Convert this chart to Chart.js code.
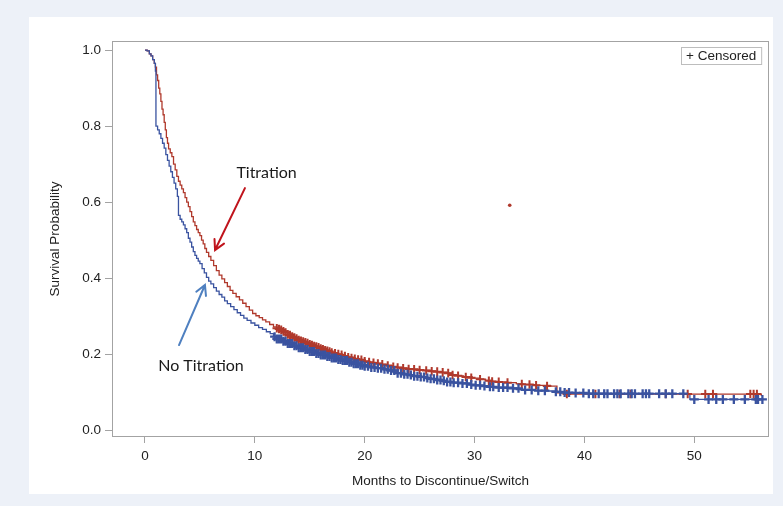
<!DOCTYPE html>
<html><head><meta charset="utf-8">
<script src="https://cdn.jsdelivr.net/npm/chart.js@4.4.1/dist/chart.umd.min.js"></script>
<style>html,body{margin:0;padding:0;background:#edf1f8;}canvas{display:block}</style>
</head><body>
<canvas id="c" width="783" height="506"></canvas>
<script>
// ---- data ----
const seriesNames = ['Titration', 'No Titration'];
const xTicks = [0, 10, 20, 30, 40, 50];
const yTicks = [0, 0.2, 0.4, 0.6, 0.8, 1.0];

const titrT = [0,0.2,0.4,0.55,0.7,0.85,0.95,1.05,1.15,1.25,1.35,1.45,1.55,1.65,1.75,1.85,1.95,2.05,2.15,2.3,2.45,2.6,2.75,2.9,3.05,3.2,3.35,3.5,3.65,3.8,3.95,4.1,4.25,4.4,4.55,4.7,4.85,5.0,5.15,5.3,5.45,5.6,5.8,6.0,6.25,6.5,6.75,7.0,7.25,7.5,7.75,8.0,8.3,8.6,8.9,9.2,9.5,9.8,10.1,10.4,10.7,11.0,11.35,11.7,12.0,12.3,12.65,13.0,13.5,14.0,14.5,15.0,15.5,16.0,16.5,17.0,17.5,18.0,18.5,19.0,19.5,20.0,20.5,21.0,21.5,22.0,22.5,23.0,23.5,24.0,24.5,25.0,25.5,26.0,26.5,27.0,27.5,28.0,28.5,29.0,29.8,30.5,31.0,31.5,32.2,33.0,33.8,34.5,35.5,36.9,37.5,38.3,56.0,56.1];
const titrS = [1.0,0.998,0.99,0.985,0.975,0.965,0.955,0.935,0.92,0.90,0.885,0.865,0.845,0.83,0.81,0.79,0.77,0.755,0.74,0.73,0.72,0.70,0.685,0.668,0.655,0.645,0.635,0.625,0.612,0.60,0.588,0.575,0.562,0.548,0.538,0.528,0.52,0.512,0.50,0.49,0.478,0.468,0.457,0.447,0.433,0.42,0.408,0.398,0.388,0.378,0.368,0.36,0.351,0.343,0.334,0.325,0.316,0.307,0.301,0.296,0.29,0.285,0.278,0.272,0.268,0.265,0.259,0.252,0.244,0.237,0.231,0.226,0.22,0.215,0.209,0.204,0.20,0.196,0.192,0.188,0.185,0.181,0.178,0.176,0.173,0.170,0.167,0.165,0.163,0.161,0.16,0.158,0.157,0.155,0.154,0.152,0.15,0.145,0.143,0.14,0.137,0.134,0.131,0.128,0.127,0.125,0.122,0.12,0.118,0.116,0.098,0.095,0.095,0.09];

const noTitrT = [0,0.2,0.4,0.55,0.7,0.85,0.95,1.0,1.15,1.3,1.45,1.6,1.75,1.9,2.05,2.2,2.35,2.5,2.65,2.8,2.95,3.05,3.2,3.35,3.5,3.65,3.8,3.95,4.1,4.25,4.4,4.55,4.7,4.85,5.0,5.2,5.4,5.6,5.8,6.0,6.25,6.5,6.75,7.0,7.25,7.5,7.8,8.1,8.4,8.7,9.0,9.3,9.65,10.0,10.35,10.7,11.05,11.4,11.7,12.0,12.5,13.0,13.5,14.0,14.5,15.0,15.5,16.0,16.5,17.0,17.5,18.0,18.5,19.0,19.5,20.0,20.5,21.0,21.5,22.0,22.5,23.0,23.5,24.0,24.5,25.0,25.5,26.0,26.5,27.0,27.5,28.0,28.7,29.5,30.1,30.8,31.4,32.0,32.9,33.8,34.6,35.5,36.5,37.5,38.2,39.0,40.0,49.6,56.3];
const noTitrS = [1.0,0.998,0.99,0.985,0.975,0.965,0.945,0.80,0.79,0.78,0.768,0.755,0.742,0.725,0.71,0.695,0.68,0.665,0.65,0.635,0.615,0.565,0.555,0.548,0.54,0.53,0.52,0.505,0.495,0.482,0.47,0.46,0.452,0.445,0.438,0.425,0.414,0.402,0.392,0.385,0.375,0.366,0.357,0.35,0.34,0.333,0.325,0.317,0.309,0.302,0.295,0.289,0.282,0.276,0.27,0.265,0.259,0.254,0.246,0.24,0.234,0.228,0.222,0.217,0.212,0.207,0.202,0.198,0.194,0.19,0.186,0.183,0.179,0.175,0.171,0.168,0.165,0.163,0.16,0.157,0.153,0.15,0.147,0.145,0.142,0.14,0.137,0.135,0.132,0.13,0.127,0.125,0.123,0.12,0.118,0.116,0.114,0.112,0.11,0.107,0.106,0.104,0.103,0.101,0.099,0.098,0.096,0.081,0.081];

const titrCensT = [12.0,12.2,12.4,12.6,12.8,13.0,13.2,13.4,13.6,13.8,14.0,14.2,14.4,14.6,14.8,15.0,15.2,15.4,15.6,15.8,16.0,16.2,16.4,16.6,16.8,17.0,17.3,17.6,17.9,18.2,18.5,18.8,19.1,19.4,19.7,20.0,20.4,20.8,21.2,21.6,22.1,22.6,23.0,23.5,24.0,24.5,25.0,25.6,26.1,26.6,27.1,27.6,28.0,28.5,29.2,29.7,30.5,31.3,31.6,32.2,33.0,34.3,35.0,35.6,36.6,38.4,41.0,43.2,44.2,47.4,49.4,51.0,51.7,55.1,55.4,55.7];
const titrCensS = [0.268,0.266,0.264,0.260,0.257,0.252,0.250,0.246,0.244,0.241,0.237,0.235,0.233,0.231,0.229,0.226,0.224,0.221,0.220,0.218,0.215,0.213,0.210,0.209,0.207,0.204,0.202,0.200,0.198,0.195,0.192,0.190,0.188,0.186,0.185,0.181,0.179,0.177,0.175,0.173,0.170,0.167,0.165,0.163,0.161,0.160,0.158,0.157,0.155,0.154,0.152,0.150,0.145,0.143,0.140,0.138,0.134,0.130,0.128,0.127,0.125,0.121,0.120,0.118,0.116,0.095,0.095,0.095,0.095,0.095,0.095,0.095,0.095,0.095,0.095,0.095];

const noTitrCensT = [11.8,12.0,12.2,12.4,12.6,12.8,13.0,13.2,13.4,13.6,13.8,14.0,14.2,14.4,14.6,14.8,15.0,15.2,15.4,15.6,15.8,16.0,16.2,16.4,16.6,16.8,17.0,17.2,17.4,17.6,17.8,18.0,18.2,18.4,18.6,18.8,19.0,19.2,19.4,19.6,19.8,20.0,20.3,20.6,20.9,21.2,21.5,21.8,22.1,22.4,22.7,23.0,23.3,23.6,23.9,24.2,24.5,24.8,25.1,25.4,25.7,26.0,26.3,26.6,26.9,27.2,27.5,27.8,28.1,28.5,28.9,29.3,29.7,30.1,30.5,30.9,31.4,31.7,32.2,32.6,33.0,33.5,34.0,34.6,35.2,35.8,36.4,37.4,37.8,38.2,38.6,39.2,39.9,40.4,40.8,41.3,41.8,42.1,42.7,43.0,43.3,44.0,44.3,44.6,45.3,45.6,45.9,46.8,47.4,48.0,49.0,50.0,51.3,52.0,52.6,53.6,54.6,55.6,55.8,56.2];
const noTitrCensS = [0.246,0.240,0.240,0.240,0.234,0.234,0.228,0.228,0.228,0.222,0.222,0.217,0.217,0.217,0.212,0.212,0.207,0.207,0.207,0.202,0.202,0.198,0.198,0.198,0.194,0.194,0.190,0.190,0.190,0.186,0.186,0.183,0.183,0.183,0.179,0.179,0.175,0.175,0.175,0.171,0.171,0.168,0.168,0.165,0.165,0.163,0.163,0.160,0.160,0.157,0.157,0.150,0.150,0.147,0.147,0.145,0.142,0.142,0.140,0.140,0.137,0.135,0.135,0.132,0.132,0.130,0.127,0.127,0.125,0.125,0.123,0.123,0.120,0.118,0.118,0.116,0.114,0.114,0.112,0.112,0.112,0.110,0.110,0.106,0.106,0.104,0.104,0.101,0.101,0.099,0.099,0.098,0.098,0.096,0.096,0.096,0.096,0.096,0.096,0.096,0.096,0.096,0.096,0.096,0.096,0.096,0.096,0.096,0.096,0.096,0.096,0.081,0.081,0.081,0.081,0.081,0.081,0.081,0.081,0.081];

const strayX = [33.2];
const strayY = [0.592];

// annotation labels and arrows (in data units)
const annoText = ['Titration', 'No Titration'];
const annoTextX = [11.07, 5.1];
const annoTextY = [0.676, 0.168];
const arrowFromX = [9.1, 3.1];
const arrowFromY = [0.637, 0.224];
const arrowToX = [6.38, 5.46];
const arrowToY = [0.474, 0.382];

// ---- styling ----
const RED = '#b0392c';
const BLUE = '#3a53a0';
const ARROW_COLORS = ['#c0141c', '#4f80c0'];
const TXT = '#222222';
const FRAME = '#a3a3a3';
const AXFONT = {family: '"Liberation Sans", Arial, sans-serif', size: 13.5};

const pts = (xs, ys) => xs.map((x, i) => ({x: x, y: ys[i]}));

const bgPlugin = {
  id: 'bg',
  beforeDraw(chart) {
    const c = chart.ctx;
    c.save();
    c.fillStyle = '#edf1f8';
    c.fillRect(0, 0, chart.width, chart.height);
    c.fillStyle = '#ffffff';
    c.fillRect(29, 17, 744, 477);
    c.restore();
  },
  beforeDatasetsDraw(chart) {
    const a = chart.chartArea, c = chart.ctx;
    c.save();
    c.strokeStyle = FRAME;
    c.lineWidth = 1;
    c.strokeRect(Math.round(a.left) + 0.5, Math.round(a.top) + 0.5, Math.round(a.right - a.left) - 1, Math.round(a.bottom - a.top) - 1);
    c.restore();
  },
  afterDatasetsDraw(chart) {
    const c = chart.ctx, sx = chart.scales.x, sy = chart.scales.y, a = chart.chartArea;
    c.save();
    // annotation texts
    c.font = '16px Lato, "Open Sans", sans-serif';
    c.fillStyle = '#1a1a1a';
    c.textAlign = 'center';
    c.textBaseline = 'middle';
    annoText.forEach((t, i) => c.fillText(t, sx.getPixelForValue(annoTextX[i]), sy.getPixelForValue(annoTextY[i])));
    // arrows
    arrowFromX.forEach((fx, i) => {
      const x1 = sx.getPixelForValue(fx), y1 = sy.getPixelForValue(arrowFromY[i]);
      const x2 = sx.getPixelForValue(arrowToX[i]), y2 = sy.getPixelForValue(arrowToY[i]);
      const ang = Math.atan2(y2 - y1, x2 - x1), h = 11, spread = 0.5;
      c.strokeStyle = ARROW_COLORS[i];
      c.lineWidth = 2;
      c.lineCap = 'round';
      c.beginPath();
      c.moveTo(x1, y1); c.lineTo(x2, y2);
      c.moveTo(x2 - h * Math.cos(ang - spread), y2 - h * Math.sin(ang - spread));
      c.lineTo(x2, y2);
      c.lineTo(x2 - h * Math.cos(ang + spread), y2 - h * Math.sin(ang + spread));
      c.stroke();
    });
    // censored legend box
    c.font = '13.5px "Liberation Sans", Arial, sans-serif';
    const label = '+ Censored';
    const w = c.measureText(label).width + 10, hgt = 17;
    const bx = Math.round(a.right - 8 - w), by = Math.round(a.top + 6);
    c.fillStyle = '#ffffff';
    c.fillRect(bx, by, w, hgt);
    c.strokeStyle = '#bdbdbd';
    c.lineWidth = 1;
    c.strokeRect(bx + 0.5, by + 0.5, w, hgt);
    c.fillStyle = TXT;
    c.textAlign = 'left';
    c.textBaseline = 'middle';
    c.fillText(label, bx + 5, by + hgt / 2 + 1);
    c.restore();
  }
};

new Chart(document.getElementById('c'), {
  type: 'scatter',
  data: {
    datasets: [
      {label: seriesNames[0], data: pts(titrT, titrS), showLine: true, stepped: true, borderColor: RED, borderWidth: 1.3, pointRadius: 0, order: 4},
      {label: seriesNames[1], data: pts(noTitrT, noTitrS), showLine: true, stepped: true, borderColor: BLUE, borderWidth: 1.3, pointRadius: 0, order: 3},
      {label: seriesNames[0] + ' censored', data: pts(titrCensT, titrCensS), showLine: false, pointStyle: 'cross', pointRadius: 4.3, borderColor: RED, borderWidth: 2, order: 2},
      {label: seriesNames[1] + ' censored', data: pts(noTitrCensT, noTitrCensS), showLine: false, pointStyle: 'cross', pointRadius: 4.5, borderColor: BLUE, borderWidth: 2.3, order: 1},
      {label: 'point', data: pts(strayX, strayY), showLine: false, pointStyle: 'circle', pointRadius: 1.8, backgroundColor: RED, borderColor: RED, borderWidth: 0, order: 0}
    ]
  },
  options: {
    responsive: false,
    animation: false,
    devicePixelRatio: 1,
    layout: {padding: {top: 41, right: 14, left: 0, bottom: 0}},
    plugins: {legend: {display: false}, tooltip: {enabled: false}},
    scales: {
      x: {
        type: 'linear', min: -3.0, max: 56.8,
        afterBuildTicks: s => { s.ticks = xTicks.map(v => ({value: v})); },
        afterFit: s => { s.height = 69; },
        border: {display: false},
        grid: {drawOnChartArea: false, drawTicks: true, tickLength: 6, color: FRAME},
        ticks: {padding: 5, color: TXT, font: AXFONT, callback: v => String(v)},
        title: {display: true, text: 'Months to Discontinue/Switch', color: TXT, font: AXFONT, padding: {top: 0, bottom: 17}}
      },
      y: {
        type: 'linear', min: -0.018, max: 1.024,
        afterBuildTicks: s => { s.ticks = yTicks.map(v => ({value: v})); },
        afterFit: s => { s.width = 112; },
        border: {display: false},
        grid: {drawOnChartArea: false, drawTicks: true, tickLength: 7, color: FRAME},
        ticks: {padding: 4, color: TXT, font: AXFONT, callback: v => Number(v).toFixed(1)},
        title: {display: true, text: 'Survival Probability', color: TXT, font: AXFONT, padding: {top: 47, bottom: 0}}
      }
    }
  },
  plugins: [bgPlugin]
});
</script>
</body></html>
